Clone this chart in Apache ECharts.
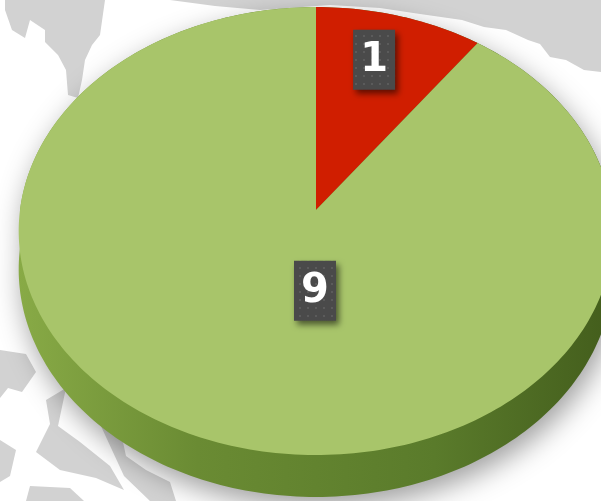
<!DOCTYPE html>
<html>
<head>
<meta charset="utf-8">
<script src="https://cdn.jsdelivr.net/npm/echarts@6/dist/echarts.min.js"></script>
<style>
  html, body { margin: 0; padding: 0; background: #fff; }
  #main { width: 601px; height: 501px; }
</style>
</head>
<body>
<div id="main"></div>
<script>
// data
const sliceNames = ["A", "B"];
const sliceValues = [1, 9];
const sliceColors = ["#d01e00", "#a8c56a"];

// layout of the tilted pie
const cx = 316, cy = 210, rx = 296, ry = 222, depth = 38, persp = 0.094;
const labelRadius = [0.76, 0.37];
const labelShift = [-7, 34];

const total = sliceValues.reduce((a, b) => a + b, 0);

function project(theta, r, down) {
  const u = r * Math.sin(theta);
  const v = -r * Math.cos(theta);
  const w = 1 - persp * v;
  return [cx + (rx * u) / w, cy + (ry * v + (down || 0)) / w];
}

function arc(a0, a1, down) {
  const pts = [];
  const n = Math.max(8, Math.ceil(Math.abs(a1 - a0) / 0.02));
  for (let i = 0; i <= n; i++) {
    pts.push(project(a0 + ((a1 - a0) * i) / n, 1, down));
  }
  return pts;
}

// dotted tile for the label boxes
const tile = document.createElement("canvas");
tile.width = 8;
tile.height = 8;
const g = tile.getContext("2d");
g.fillStyle = "#4a4a4a";
g.fillRect(0, 0, 8, 8);
g.fillStyle = "#5b5b5b";
g.fillRect(3, 3, 2, 2);

// background map-ish blobs
const mapBlobs = [
  [[5, 0], [105, 0], [100, 35], [92, 45], [85, 60], [82, 80], [78, 98], [68, 95], [66, 70], [58, 55], [45, 42], [45, 30], [30, 20], [25, 38], [12, 30], [5, 10]],
  [[170, 0], [601, 0], [601, 72], [584, 70], [566, 60], [550, 57], [540, 44], [528, 40], [506, 30], [484, 27], [462, 20], [420, 14], [380, 8], [330, 5], [260, 10], [215, 6]],
  [[0, 350], [26, 354], [36, 372], [22, 392], [8, 388], [0, 398]],
  [[46, 400], [66, 388], [58, 426], [80, 442], [110, 466], [124, 490], [96, 478], [60, 470], [36, 452], [50, 424]],
  [[100, 424], [120, 428], [126, 456], [146, 470], [170, 482], [176, 501], [150, 501], [124, 476]],
  [[0, 440], [16, 450], [10, 476], [0, 482]],
  [[30, 486], [70, 488], [84, 501], [26, 501]]
];

const chart = echarts.init(document.getElementById("main"));

function renderSlice(params, api) {
  const idx = params.dataIndex;
  const value = api.value(0);
  let before = 0;
  for (let i = 0; i < idx; i++) before += sliceValues[i];
  const a0 = (before / total) * Math.PI * 2;
  const a1 = ((before + value) / total) * Math.PI * 2;
  const children = [];

  if (idx === 0) {
    // solid silhouette (side wall) with drop shadow
    const outline = arc(-Math.PI / 2, Math.PI / 2, 0).concat(arc(Math.PI / 2, Math.PI * 1.5, depth));
    children.push({
      type: "polygon",
      shape: { points: outline },
      z2: 1,
      style: {
        fill: new echarts.graphic.LinearGradient(0, 0, 1, 0, [
          { offset: 0, color: "#88aa46" },
          { offset: 0.3, color: "#6a8b33" },
          { offset: 0.7, color: "#5a7b2b" },
          { offset: 1, color: "#435d1c" }
        ]),
        shadowBlur: 28,
        shadowOffsetX: 4,
        shadowOffsetY: 10,
        shadowColor: "rgba(0,0,0,0.38)"
      }
    });
  }

  const face = [[cx, cy]].concat(arc(a0, a1, 0));
  children.push({
    type: "polygon",
    shape: { points: face },
    z2: 2,
    style: { fill: sliceColors[idx] }
  });

  const mid = (a0 + a1) / 2;
  const p = project(mid, labelRadius[idx], 0);
  const lx = p[0] + labelShift[idx];
  const ly = p[1];
  children.push({
    type: "rect",
    shape: { x: lx - 21, y: ly - 30, width: 42, height: 60 },
    z2: 10,
    style: {
      fill: { image: tile, repeat: "repeat" },
      shadowBlur: 6,
      shadowOffsetX: 3,
      shadowOffsetY: 4,
      shadowColor: "rgba(0,0,0,0.55)"
    }
  });
  children.push({
    type: "text",
    z2: 11,
    style: {
      text: String(value),
      x: lx,
      y: ly + 1,
      align: "center",
      verticalAlign: "middle",
      fill: "#ffffff",
      font: 'bold 40px "DejaVu Sans"'
    }
  });

  return { type: "group", children: children };
}

chart.setOption({
  backgroundColor: "#ffffff",
  animation: false,
  graphic: mapBlobs.map((pts) => ({
    type: "polygon",
    z: 0,
    silent: true,
    shape: { points: pts },
    style: { fill: "#d2d2d2" }
  })),
  series: [
    {
      type: "custom",
      coordinateSystem: "none",
      z: 2,
      renderItem: renderSlice,
      data: sliceValues.map((v, i) => ({ name: sliceNames[i], value: [v] }))
    }
  ]
});
</script>
</body>
</html>
